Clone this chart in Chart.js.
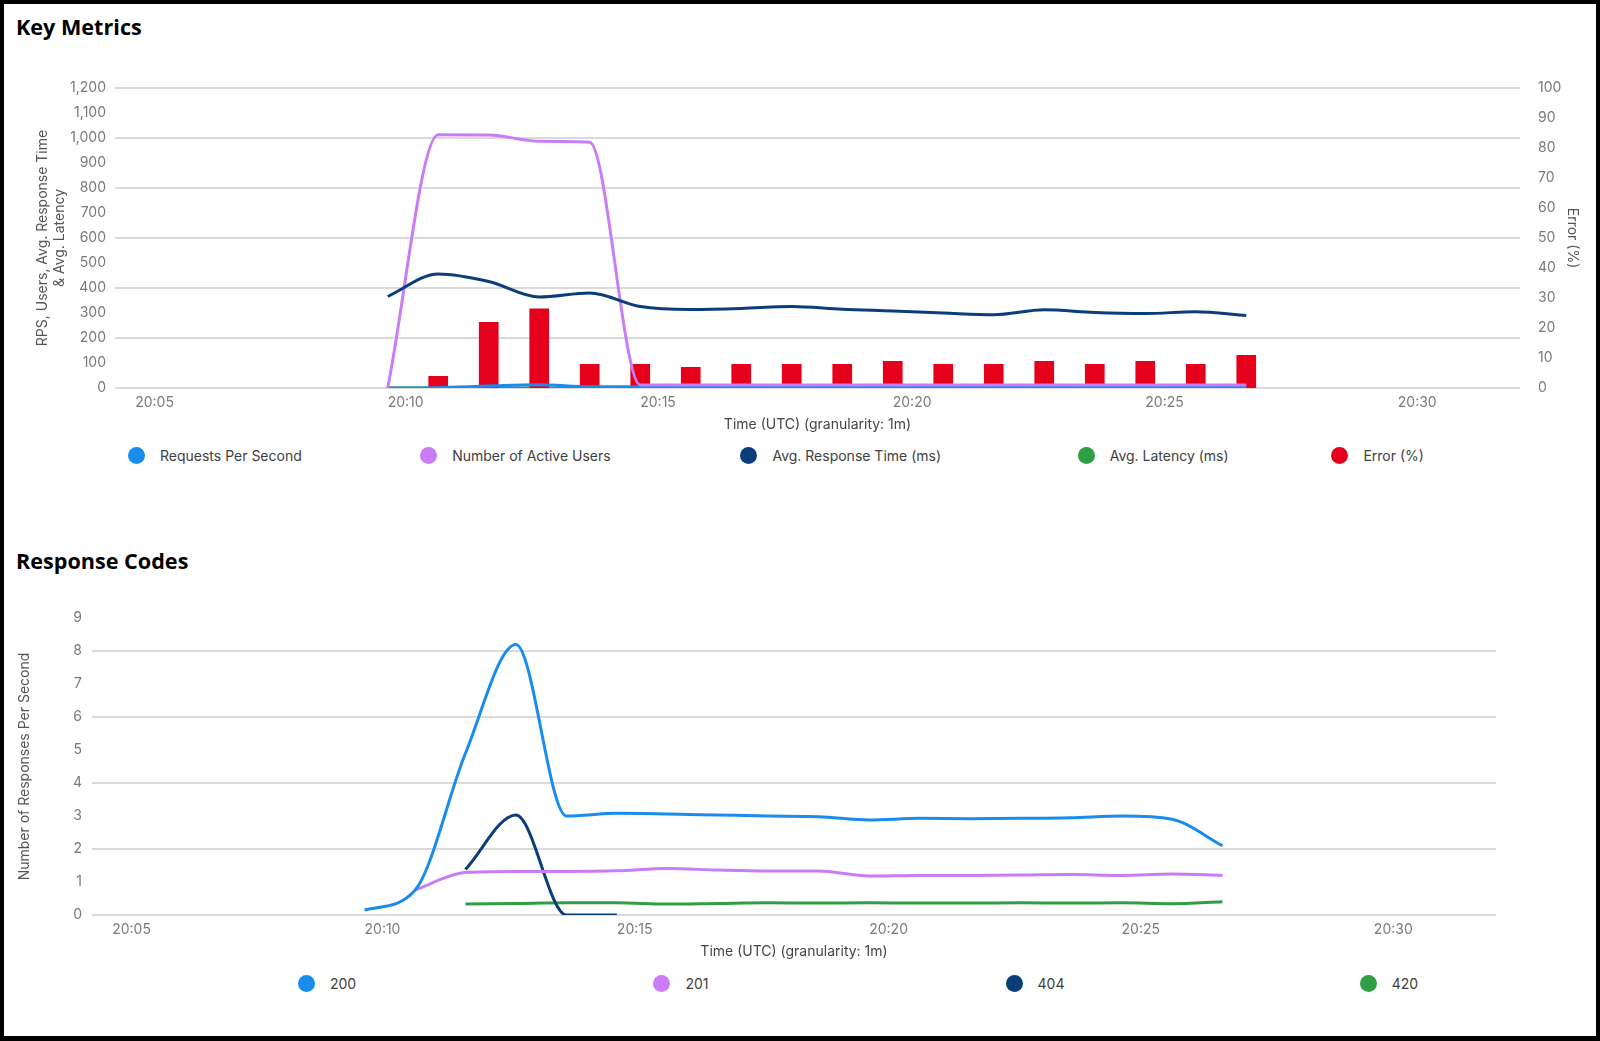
<!DOCTYPE html>
<html lang="en">

<head>
  <meta charset="UTF-8" />
  <meta name="viewport" content="width=device-width, initial-scale=1.0" />
  <title>Key Metrics</title>
  <script src="https://cdn.jsdelivr.net/npm/chart.js"></script>
  <style>
    html,
    body {
      margin: 0;
      padding: 0;
    }

    body {
      position: relative;
      width: 1600px;
      height: 1041px;
      overflow: hidden;
      background: #ffffff;
      font-family: Inter, 'Noto Sans', sans-serif;
    }

    .frame {
      position: absolute;
      inset: 0;
      border: 4px solid #000;
      border-bottom-width: 5px;
      box-sizing: border-box;
      pointer-events: none;
    }

    h2 {
      position: absolute;
      left: 16px;
      margin: 0;
      font-family: 'Open Sans', sans-serif;
      font-weight: 700;
      font-size: 21.6px;
      line-height: 28px;
      color: #000;
    }

    #title1 { top: 13px; }
    #title2 { top: 547px; }

    .chart-box {
      position: absolute;
      left: 0;
      width: 1600px;
    }

    #box1 { top: 0; height: 440px; }
    #box2 { top: 540px; height: 427px; }

    .legend {
      position: absolute;
      font-size: 14px;
      color: #404040;
    }

    .legend .item {
      display: flex;
      align-items: center;
      white-space: nowrap;
    }

    .legend .dot {
      width: 17px;
      height: 17px;
      border-radius: 50%;
      margin-right: 15px;
    }

    #legend1 {
      display: table;
      left: 128px;
      width: 1359px;
      top: 447px;
    }

    #legend1 .cell {
      display: table-cell;
    }

    #legend2 {
      display: grid;
      grid-template-columns: repeat(4, 1fr);
      left: 150px;
      width: 1416px;
      top: 975px;
    }

    #legend2 .item {
      justify-content: center;
    }
  </style>
</head>

<body>
  <h2 id="title1">Key Metrics</h2>
  <div class="chart-box" id="box1"><canvas id="keyMetricsChart"></canvas></div>
  <div class="legend" id="legend1"></div>

  <h2 id="title2">Response Codes</h2>
  <div class="chart-box" id="box2"><canvas id="responseCodesChart"></canvas></div>
  <div class="legend" id="legend2"></div>

  <div class="frame"></div>

  <script>
    // time axis
    const timeTicks = ['20:05', '20:10', '20:15', '20:20', '20:25', '20:30'];
    const minuteTimes = ['20:10', '20:11', '20:12', '20:13', '20:14', '20:15', '20:16', '20:17', '20:18',
      '20:19', '20:20', '20:21', '20:22', '20:23', '20:24', '20:25', '20:26', '20:27'];

    // Key Metrics series
    const requestsPerSecond = [0.2, 1.5, 7.9, 12.9, 4.7, 4.8, 4.6, 4.6, 4.6, 4.5, 4.4, 4.5, 4.5, 4.5, 4.5, 4.6, 4.5, 3.7];
    const activeUsers = [0, 1013, 1012, 987, 983, 12, 12, 12, 12, 12, 12, 12, 12, 12, 12, 12, 12, 12];
    const avgResponseTime = [366, 456, 426, 364, 380, 326, 314, 318, 326, 315, 308, 300, 293, 313, 302, 298, 305, 290];
    const avgLatency = [0, 0, 0, 0, 0, 0, 0, 0, 0, 0, 0, 0, 0, 0, 0, 0, 0, 0];
    const errorTimes = ['20:11', '20:12', '20:13', '20:14', '20:15', '20:16', '20:17', '20:18', '20:19',
      '20:20', '20:21', '20:22', '20:23', '20:24', '20:25', '20:26', '20:27'];
    const errorPct = [4, 22, 26.5, 8, 8, 7, 8, 8, 8, 9, 8, 8, 9, 8, 9, 8, 11];

    // Response Codes series (per second)
    const code200 = [0.15, 0.75, 4.9, 8.2, 3.0, 3.08, 3.06, 3.03, 3.0, 2.98, 2.88, 2.93, 2.92, 2.93, 2.95, 3.0, 2.9, 2.1];
    const code201 = [null, 0.76, 1.29, 1.32, 1.32, 1.34, 1.41, 1.36, 1.33, 1.33, 1.18, 1.2, 1.2, 1.21, 1.23, 1.2, 1.24, 1.2];
    const code404 = [null, null, 1.38, 3.03, 0, 0, null, null, null, null, null, null, null, null, null, null, null, null];
    const code420 = [null, null, 0.33, 0.35, 0.37, 0.37, 0.33, 0.35, 0.37, 0.36, 0.37, 0.36, 0.36, 0.37, 0.36, 0.37, 0.34, 0.4];

    const colors = {
      blue: '#1a8cee',
      purple: '#c97cf5',
      navy: '#0b3d79',
      green: '#2f9e44',
      red: '#e5001b'
    };

    function toMinutes(t) {
      const [h, m] = t.split(':').map(Number);
      return h * 60 + m;
    }

    function fmtTime(v) {
      const h = Math.floor(v / 60);
      const m = Math.round(v - h * 60);
      return h + ':' + String(m).padStart(2, '0');
    }

    function points(times, values) {
      return times.map((t, i) => ({ x: toMinutes(t), y: values[i] }));
    }

    Chart.defaults.font.family = 'Inter';
    Chart.defaults.font.size = 14;
    Chart.defaults.color = '#7a7a7a';

    const gridEven = ctx => (ctx.index % 2 === 0 ? '#dadada' : 'rgba(0,0,0,0)');
    const xMin = toMinutes('20:04') + 0.6;
    const xMax = toMinutes('20:32') + 0.42;

    function timeAxis() {
      return {
        type: 'linear',
        min: xMin,
        max: xMax,
        offset: false,
        grid: { display: false, drawTicks: false },
        border: { display: false },
        afterBuildTicks: s => { s.ticks = timeTicks.map(t => ({ value: toMinutes(t) })); },
        afterFit: s => { s.height = 52; },
        ticks: { align: 'start', padding: 6, maxRotation: 0, autoSkip: false, callback: v => fmtTime(v) },
        title: {
          display: true,
          text: 'Time (UTC) (granularity: 1m)',
          color: '#444',
          font: { size: 14, lineHeight: 1.25 },
          padding: { top: 0, bottom: 6 }
        }
      };
    }

    const lineStyle = { borderWidth: 3, pointRadius: 0, pointHoverRadius: 0, fill: false, cubicInterpolationMode: 'monotone' };

    const keySeries = [
      { label: 'Requests Per Second', color: colors.blue },
      { label: 'Number of Active Users', color: colors.purple },
      { label: 'Avg. Response Time (ms)', color: colors.navy },
      { label: 'Avg. Latency (ms)', color: colors.green },
      { label: 'Error (%)', color: colors.red }
    ];

    new Chart(document.getElementById('keyMetricsChart'), {
      type: 'line',
      data: {
        datasets: [
          { ...lineStyle, label: keySeries[0].label, data: points(minuteTimes, requestsPerSecond), borderColor: colors.blue, yAxisID: 'y', order: 2 },
          { ...lineStyle, label: keySeries[1].label, data: points(minuteTimes, activeUsers), borderColor: colors.purple, yAxisID: 'y', order: 1 },
          { ...lineStyle, label: keySeries[2].label, data: points(minuteTimes, avgResponseTime), borderColor: colors.navy, yAxisID: 'y', order: 0 },
          { ...lineStyle, label: keySeries[3].label, data: points(minuteTimes, avgLatency), borderColor: colors.green, yAxisID: 'y', order: 20 },
          {
            type: 'bar', label: keySeries[4].label, data: points(errorTimes, errorPct), backgroundColor: colors.red,
            yAxisID: 'yErr', order: 10, barPercentage: 0.39, categoryPercentage: 1
          }
        ]
      },
      options: {
        responsive: true,
        maintainAspectRatio: false,
        animation: false,
        layout: { padding: { top: 88, left: 0, right: 0, bottom: 0 } },
        plugins: { legend: { display: false }, tooltip: { enabled: false } },
        scales: {
          x: timeAxis(),
          y: {
            position: 'left',
            min: 0,
            max: 1200,
            grid: { color: gridEven, lineWidth: 2, drawTicks: false },
            border: { display: false },
            afterFit: s => { s.width = 115; },
            ticks: { stepSize: 100, padding: 9 },
            title: {
              display: true,
              text: ['RPS, Users, Avg. Response Time', '& Avg. Latency'],
              color: '#555',
              font: { size: 14, lineHeight: 1.25 },
              padding: { top: 34, bottom: 0 }
            }
          },
          yErr: {
            position: 'right',
            min: 0,
            max: 100,
            grid: { display: false },
            border: { display: false },
            afterFit: s => { s.width = 80; },
            ticks: { stepSize: 10, padding: 10 },
            title: {
              display: true,
              text: 'Error (%)',
              color: '#555',
              font: { size: 14, lineHeight: 1.25 },
              padding: { top: 19, bottom: 0 }
            }
          }
        }
      }
    });

    const codeSeries = [
      { label: '200', color: colors.blue },
      { label: '201', color: colors.purple },
      { label: '404', color: colors.navy },
      { label: '420', color: colors.green }
    ];

    new Chart(document.getElementById('responseCodesChart'), {
      type: 'line',
      data: {
        datasets: [
          { ...lineStyle, label: '200', data: points(minuteTimes, code200), borderColor: colors.blue },
          { ...lineStyle, label: '201', data: points(minuteTimes, code201), borderColor: colors.purple },
          { ...lineStyle, label: '404', data: points(minuteTimes, code404), borderColor: colors.navy },
          { ...lineStyle, label: '420', data: points(minuteTimes, code420), borderColor: colors.green }
        ]
      },
      options: {
        responsive: true,
        maintainAspectRatio: false,
        animation: false,
        layout: { padding: { top: 78, left: 0, right: 104, bottom: 0 } },
        plugins: { legend: { display: false }, tooltip: { enabled: false } },
        scales: {
          x: timeAxis(),
          y: {
            min: 0,
            max: 9,
            grid: { color: gridEven, lineWidth: 2, drawTicks: false },
            border: { display: false },
            afterFit: s => { s.width = 92; },
            ticks: { stepSize: 1, padding: 10 },
            title: {
              display: true,
              text: 'Number of Responses Per Second',
              color: '#555',
              font: { size: 14, lineHeight: 1.25 },
              padding: { top: 16, bottom: 0 }
            }
          }
        }
      }
    });

    // HTML legends
    function buildLegend(id, series, cellClass) {
      const box = document.getElementById(id);
      series.forEach(s => {
        const wrap = document.createElement('div');
        if (cellClass) wrap.className = cellClass;
        const item = document.createElement('div');
        item.className = 'item';
        const dot = document.createElement('span');
        dot.className = 'dot';
        dot.style.background = s.color;
        const text = document.createElement('span');
        text.textContent = s.label;
        item.appendChild(dot);
        item.appendChild(text);
        if (cellClass) {
          wrap.appendChild(item);
          box.appendChild(wrap);
        } else {
          box.appendChild(item);
        }
      });
    }

    buildLegend('legend1', keySeries, 'cell');
    buildLegend('legend2', codeSeries, null);
  </script>
</body>

</html>
